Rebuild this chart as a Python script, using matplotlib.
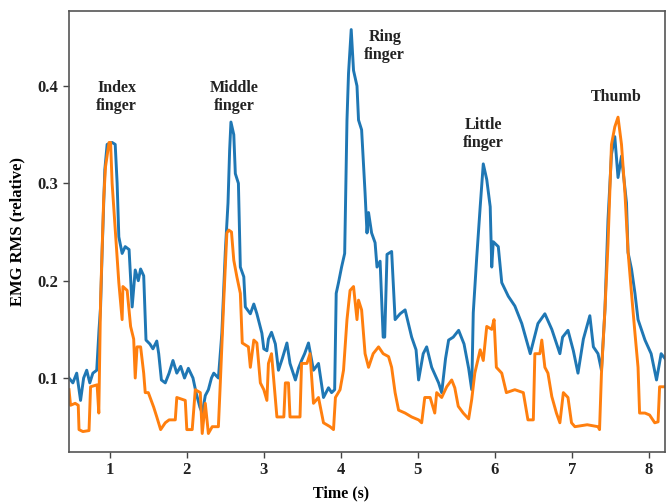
import matplotlib
matplotlib.use('Agg')
import matplotlib.pyplot as plt

plt.rcParams['font.family'] = ['Liberation Serif', 'DejaVu Serif']
plt.rcParams['font.weight'] = 'bold'

# channel 1 (blue)
t_blue = [0.47, 0.52, 0.57, 0.62, 0.66, 0.70, 0.74, 0.78, 0.83, 0.86, 0.88, 0.90, 0.935, 0.965,
          1.03, 1.07, 1.095, 1.117, 1.16, 1.20, 1.25, 1.29, 1.33, 1.37, 1.40, 1.44, 1.47, 1.52,
          1.56, 1.61, 1.635, 1.67, 1.72, 1.77, 1.82, 1.87, 1.92, 1.97, 2.02, 2.08, 2.12, 2.17,
          2.20, 2.24, 2.28, 2.32, 2.35, 2.41, 2.455, 2.50, 2.535, 2.556, 2.573, 2.61, 2.63, 2.67,
          2.695, 2.74, 2.76, 2.825, 2.87, 2.91, 2.975, 3.00, 3.04, 3.06, 3.10, 3.15, 3.19, 3.24,
          3.30, 3.34, 3.41, 3.45, 3.49, 3.53, 3.58, 3.645, 3.71, 3.775, 3.84, 3.88, 3.92, 3.94,
          3.97, 4.01, 4.05, 4.08, 4.10, 4.135, 4.165, 4.21, 4.23, 4.27, 4.315, 4.34, 4.36, 4.40,
          4.445, 4.47, 4.51, 4.55, 4.57, 4.60, 4.66, 4.705, 4.77, 4.835, 4.92, 4.977, 5.01, 5.07,
          5.115, 5.18, 5.27, 5.31, 5.36, 5.40, 5.46, 5.53, 5.60, 5.66, 5.70, 5.72, 5.765, 5.81,
          5.85, 5.895, 5.94, 5.96, 5.98, 6.045, 6.09, 6.175, 6.26, 6.35, 6.46, 6.56, 6.65, 6.74,
          6.845, 6.88, 6.95, 7.02, 7.08, 7.15, 7.234, 7.28, 7.34, 7.385, 7.43, 7.47, 7.515, 7.558,
          7.60, 7.645, 7.71, 7.73, 7.775, 7.82, 7.86, 7.95, 8.03, 8.10, 8.16, 8.21]
v_blue = [0.100, 0.095, 0.105, 0.077, 0.100, 0.108, 0.095, 0.105, 0.108, 0.150, 0.173, 0.230, 0.314, 0.340,
          0.342, 0.340, 0.300, 0.245, 0.228, 0.235, 0.232, 0.173, 0.211, 0.200, 0.212, 0.205, 0.139, 0.135,
          0.130, 0.138, 0.125, 0.098, 0.095, 0.105, 0.118, 0.105, 0.112, 0.100, 0.110, 0.100, 0.085, 0.070,
          0.064, 0.082, 0.088, 0.100, 0.105, 0.100, 0.146, 0.230, 0.280, 0.334, 0.363, 0.350, 0.310, 0.300,
          0.214, 0.204, 0.173, 0.166, 0.176, 0.166, 0.146, 0.130, 0.128, 0.140, 0.147, 0.135, 0.108, 0.120,
          0.136, 0.115, 0.098, 0.110, 0.118, 0.125, 0.136, 0.108, 0.115, 0.080, 0.090, 0.085, 0.088, 0.187,
          0.198, 0.214, 0.228, 0.365, 0.413, 0.458, 0.416, 0.400, 0.365, 0.355, 0.290, 0.249, 0.270, 0.249,
          0.239, 0.214, 0.220, 0.142, 0.142, 0.227, 0.230, 0.160, 0.166, 0.170, 0.142, 0.129, 0.098, 0.125,
          0.132, 0.111, 0.095, 0.085, 0.120, 0.139, 0.142, 0.149, 0.135, 0.110, 0.088, 0.167, 0.224, 0.276,
          0.320, 0.304, 0.276, 0.214, 0.240, 0.235, 0.198, 0.184, 0.174, 0.156, 0.125, 0.156, 0.166, 0.150,
          0.125, 0.142, 0.149, 0.128, 0.105, 0.140, 0.164, 0.132, 0.125, 0.108, 0.170, 0.263, 0.330, 0.348,
          0.306, 0.328, 0.280, 0.229, 0.212, 0.187, 0.160, 0.139, 0.125, 0.098, 0.125, 0.120]

# channel 2 (orange)
t_orange = [0.47, 0.49, 0.55, 0.59, 0.60, 0.65, 0.73, 0.75, 0.835, 0.857, 0.88, 0.92, 0.944, 0.99,
            1.01, 1.03, 1.073, 1.117, 1.16, 1.17, 1.225, 1.27, 1.31, 1.33, 1.354, 1.40, 1.44, 1.46,
            1.50, 1.57, 1.61, 1.66, 1.72, 1.77, 1.85, 1.87, 1.98, 2.00, 2.07, 2.11, 2.175, 2.20,
            2.24, 2.28, 2.33, 2.41, 2.435, 2.48, 2.52, 2.545, 2.58, 2.61, 2.65, 2.695, 2.72, 2.80,
            2.825, 2.87, 2.91, 2.955, 3.00, 3.04, 3.06, 3.10, 3.17, 3.26, 3.28, 3.32, 3.34, 3.47,
            3.49, 3.56, 3.60, 3.645, 3.71, 3.775, 3.86, 3.905, 3.93, 3.99, 4.035, 4.08, 4.12, 4.165,
            4.21, 4.23, 4.27, 4.315, 4.36, 4.42, 4.49, 4.55, 4.62, 4.66, 4.705, 4.75, 4.835, 4.92,
            5.01, 5.05, 5.09, 5.16, 5.22, 5.245, 5.31, 5.375, 5.44, 5.48, 5.525, 5.59, 5.66, 5.70,
            5.74, 5.81, 5.85, 5.895, 5.96, 5.99, 6.02, 6.09, 6.15, 6.26, 6.37, 6.43, 6.50, 6.52,
            6.585, 6.61, 6.65, 6.69, 6.74, 6.80, 6.845, 6.89, 6.95, 6.996, 7.04, 7.20, 7.34, 7.36,
            7.385, 7.43, 7.47, 7.515, 7.558, 7.60, 7.645, 7.69, 7.73, 7.775, 7.82, 7.86, 7.88, 7.95,
            8.01, 8.077, 8.12, 8.14, 8.21]
v_orange = [0.088, 0.072, 0.074, 0.072, 0.047, 0.045, 0.046, 0.091, 0.093, 0.064, 0.180, 0.283, 0.317, 0.342,
            0.342, 0.300, 0.250, 0.198, 0.160, 0.194, 0.190, 0.153, 0.140, 0.100, 0.132, 0.132, 0.105, 0.085,
            0.085, 0.070, 0.060, 0.047, 0.054, 0.057, 0.057, 0.080, 0.077, 0.047, 0.047, 0.088, 0.085, 0.043,
            0.074, 0.043, 0.050, 0.050, 0.095, 0.180, 0.249, 0.252, 0.250, 0.221, 0.204, 0.187, 0.136, 0.132,
            0.111, 0.139, 0.136, 0.095, 0.088, 0.077, 0.115, 0.125, 0.060, 0.060, 0.095, 0.095, 0.060, 0.060,
            0.115, 0.115, 0.125, 0.074, 0.080, 0.054, 0.050, 0.047, 0.080, 0.088, 0.108, 0.160, 0.190, 0.194,
            0.160, 0.180, 0.170, 0.125, 0.111, 0.125, 0.132, 0.125, 0.122, 0.111, 0.085, 0.067, 0.064, 0.060,
            0.057, 0.054, 0.080, 0.080, 0.064, 0.085, 0.080, 0.091, 0.098, 0.090, 0.071, 0.064, 0.058, 0.078,
            0.105, 0.129, 0.118, 0.153, 0.150, 0.160, 0.111, 0.105, 0.085, 0.088, 0.085, 0.057, 0.057, 0.125,
            0.125, 0.139, 0.111, 0.105, 0.081, 0.064, 0.054, 0.085, 0.080, 0.054, 0.050, 0.052, 0.050, 0.047,
            0.105, 0.170, 0.238, 0.340, 0.358, 0.368, 0.340, 0.290, 0.230, 0.187, 0.146, 0.111, 0.064, 0.064,
            0.062, 0.054, 0.055, 0.091, 0.091]

labels = ['Index\nfinger', 'Middle\nfinger', 'Ring\nfinger', 'Little\nfinger', 'Thumb']
label_t = [1.09, 2.62, 4.57, 5.85, 7.58]
label_v = [0.389, 0.389, 0.441, 0.351, 0.389]

fig = plt.figure(figsize=(6.68, 5.03), dpi=100)
ax = fig.add_axes([0.1033, 0.1014, 0.8922, 0.8766])

ax.plot(t_blue, v_blue, color='#1f77b4', lw=2.1)
ax.plot(t_orange, v_orange, color='#ff7f0e', lw=2.1)

for lab, x, y in zip(labels, label_t, label_v):
    ax.text(x, y, lab, ha='center', va='center', fontsize=11.5, fontweight='bold',
            color='#222222', linespacing=1.2)

ax.set_xlim(0.47, 8.21)
ax.set_ylim(0.024, 0.477)
ax.set_xticks([1, 2, 3, 4, 5, 6, 7, 8])
ax.set_yticks([0.1, 0.2, 0.3, 0.4])
ax.set_xlabel('Time (s)', fontsize=11.5, fontweight='bold', labelpad=5, x=0.456)
ax.set_ylabel('EMG RMS (relative)', fontsize=12, fontweight='bold', labelpad=9)
ax.tick_params(labelsize=12, length=4, width=1, color='#444444', labelcolor='#222222')
for s in ax.spines.values():
    s.set_color('#555555')
    s.set_linewidth(1.2)

fig.savefig('out.png', dpi=100)
